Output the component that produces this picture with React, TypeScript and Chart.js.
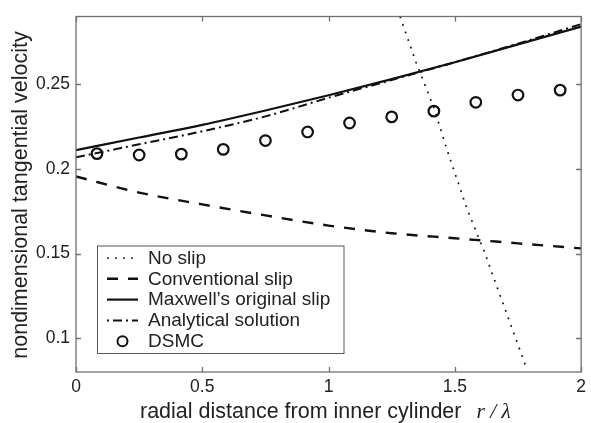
import React, { useEffect, useRef } from 'react';
import { Chart, registerables } from 'chart.js';
Chart.register(...registerables);

// ---- data ----
const lineX = [0, 0.25, 0.5, 0.75, 1, 1.25, 1.5, 1.75, 2];
const conventionalSlip = [0.1955, 0.186, 0.179, 0.1725, 0.1665, 0.162, 0.159, 0.156, 0.153];
const maxwellSlip = [0.211, 0.2185, 0.226, 0.2345, 0.2435, 0.253, 0.263, 0.2735, 0.284];
const analyticalSolution = [0.2068, 0.2145, 0.2222, 0.231, 0.242, 0.2525, 0.263, 0.274, 0.2855];
const noSlipX = [1.283, 1.346, 1.417, 1.474, 1.549, 1.617, 1.682, 1.782];
const noSlipY = [0.29, 0.263, 0.236, 0.209, 0.176, 0.151, 0.124, 0.083];
const dsmcX = [0.083, 0.25, 0.417, 0.583, 0.75, 0.917, 1.083, 1.25, 1.417, 1.583, 1.75, 1.917];
const dsmcY = [0.209, 0.2082, 0.2087, 0.2115, 0.2167, 0.2218, 0.2271, 0.2307, 0.2341, 0.2393, 0.2436, 0.2465];
const xTicks = [0, 0.5, 1, 1.5, 2];
const xTickLabels = ['0', '0.5', '1', '1.5', '2'];
const yTicks = [0.1, 0.15, 0.2, 0.25];
const yTickLabels = ['0.1', '0.15', '0.2', '0.25'];
const legendLabels = ['No slip', 'Conventional slip', 'Maxwell\u2019s original slip', 'Analytical solution', 'DSMC'];

const SANS = '"Liberation Sans", Arial, Helvetica, sans-serif';
const SERIF = '"Liberation Serif", "Times New Roman", serif';
const INK = '#111111';

const zip = (xs: number[], ys: number[]) => xs.map((x, i) => ({ x, y: ys[i] }));

const DOT = [1.8, 6.2];
const DASH = [11, 10];
const DASHDOT = [9, 4, 2, 4];

const decorPlugin = {
  id: 'decor',
  afterDraw(chart: any) {
    const { ctx, chartArea: a, scales } = chart;
    ctx.save();
    // frame
    ctx.strokeStyle = '#707070';
    ctx.lineWidth = 1.3;
    ctx.setLineDash([]);
    ctx.strokeRect(a.left, a.top, a.right - a.left, a.bottom - a.top);
    // inward ticks on all sides
    const L = 5;
    ctx.beginPath();
    xTicks.forEach((v) => {
      const px = Math.round(scales.x.getPixelForValue(v)) + 0.5;
      ctx.moveTo(px, a.bottom); ctx.lineTo(px, a.bottom - L);
      ctx.moveTo(px, a.top); ctx.lineTo(px, a.top + L);
    });
    yTicks.forEach((v) => {
      const py = Math.round(scales.y.getPixelForValue(v)) + 0.5;
      ctx.moveTo(a.left, py); ctx.lineTo(a.left + L, py);
      ctx.moveTo(a.right, py); ctx.lineTo(a.right - L, py);
    });
    ctx.stroke();

    // legend box
    const bx = a.left + 21.5, by = a.top + 229.5, bw = 246.5, bh = 107.5;
    ctx.fillStyle = '#ffffff';
    ctx.fillRect(bx, by, bw, bh);
    ctx.strokeStyle = '#555555';
    ctx.lineWidth = 1;
    ctx.strokeRect(bx, by, bw, bh);
    const sx0 = bx + 9.5, sx1 = bx + 40.5, tx = bx + 50.5;
    const rowY = (i: number) => by + 12 + i * 20.8;
    const styles: any[] = [
      { dash: DOT, w: 1.7 },
      { dash: DASH, w: 2.4 },
      { dash: [], w: 2.2 },
      { dash: [2, 4, 9, 4], w: 2.0 },
      null,
    ];
    legendLabels.forEach((label, i) => {
      const y = rowY(i);
      const s = styles[i];
      ctx.strokeStyle = INK;
      if (s) {
        ctx.lineWidth = s.w;
        ctx.setLineDash(s.dash);
        ctx.lineCap = 'butt';
        ctx.beginPath();
        ctx.moveTo(sx0, y); ctx.lineTo(sx1, y);
        ctx.stroke();
      } else {
        ctx.setLineDash([]);
        ctx.lineWidth = 2;
        ctx.beginPath();
        ctx.arc((sx0 + sx1) / 2, y, 5, 0, Math.PI * 2);
        ctx.stroke();
      }
      ctx.setLineDash([]);
      ctx.fillStyle = '#222222';
      ctx.font = `19px ${SANS}`;
      ctx.textAlign = 'left';
      ctx.textBaseline = 'middle';
      ctx.fillText(label, tx, y + 0.5);
    });

    // axis titles
    ctx.fillStyle = '#222222';
    ctx.font = `21.5px ${SANS}`;
    ctx.textBaseline = 'alphabetic';
    ctx.textAlign = 'left';
    const xTitle = 'radial distance from inner cylinder';
    const tw = ctx.measureText(xTitle).width;
    const xStart = 140;
    ctx.fillText(xTitle, xStart, 418);
    ctx.font = `italic 21.5px ${SERIF}`;
    ctx.fillText('r / \u03bb', xStart + tw + 15, 418);

    ctx.font = `21.5px ${SANS}`;
    ctx.save();
    ctx.translate(27, 195);
    ctx.rotate(-Math.PI / 2);
    ctx.textAlign = 'center';
    ctx.fillText('nondimensional tangential velocity', 0, 0);
    ctx.restore();

    ctx.restore();
  },
};

export default function App() {
  const ref = useRef<HTMLCanvasElement | null>(null);
  useEffect(() => {
    if (!ref.current) return;
    const chart = new Chart(ref.current, {
      type: 'scatter',
      data: {
        datasets: [
          {
            label: legendLabels[0],
            data: zip(noSlipX, noSlipY),
            showLine: true,
            borderColor: INK,
            borderWidth: 1.7,
            borderDash: DOT,
            borderCapStyle: 'butt',
            pointRadius: 0,
            tension: 0,
          },
          {
            label: legendLabels[1],
            data: zip(lineX, conventionalSlip),
            showLine: true,
            borderColor: INK,
            borderWidth: 2.4,
            borderDash: DASH,
            borderCapStyle: 'butt',
            pointRadius: 0,
            cubicInterpolationMode: 'monotone',
          },
          {
            label: legendLabels[2],
            data: zip(lineX, maxwellSlip),
            showLine: true,
            borderColor: INK,
            borderWidth: 2.2,
            pointRadius: 0,
            cubicInterpolationMode: 'monotone',
          },
          {
            label: legendLabels[3],
            data: zip(lineX, analyticalSolution),
            showLine: true,
            borderColor: INK,
            borderWidth: 2.0,
            borderDash: DASHDOT,
            borderCapStyle: 'butt',
            pointRadius: 0,
            cubicInterpolationMode: 'monotone',
          },
          {
            label: legendLabels[4],
            data: zip(dsmcX, dsmcY),
            showLine: false,
            borderColor: INK,
            pointBorderColor: INK,
            pointBackgroundColor: 'rgba(0,0,0,0)',
            pointRadius: 5.3,
            pointBorderWidth: 2.2,
          },
        ],
      } as any,
      options: {
        animation: false,
        responsive: false,
        events: [],
        layout: { padding: { top: 13, right: 4, left: 0, bottom: 0 } },
        plugins: { legend: { display: false }, tooltip: { enabled: false }, title: { display: false } },
        scales: {
          x: {
            type: 'linear',
            min: 0,
            max: 2,
            grid: { display: false, drawTicks: false },
            border: { display: false },
            afterBuildTicks: (s: any) => { s.ticks = xTicks.map((v) => ({ value: v })); },
            afterFit: (s: any) => { s.height = 51; },
            ticks: {
              padding: 5,
              color: '#222222',
              font: { family: SANS, size: 17.5 },
              callback: (v: any) => { const i = xTicks.indexOf(Number(v)); return i >= 0 ? xTickLabels[i] : ''; },
            },
          },
          y: {
            type: 'linear',
            min: 0.08,
            max: 0.29,
            grid: { display: false, drawTicks: false },
            border: { display: false },
            afterBuildTicks: (s: any) => { s.ticks = yTicks.map((v) => ({ value: v })); },
            afterFit: (s: any) => { s.width = 76; },
            ticks: {
              padding: 6,
              color: '#222222',
              font: { family: SANS, size: 17.5 },
              callback: (v: any) => {
                const i = yTicks.findIndex((t) => Math.abs(t - Number(v)) < 1e-9);
                return i >= 0 ? yTickLabels[i] : '';
              },
            },
          },
        },
      } as any,
      plugins: [decorPlugin],
    });
    return () => chart.destroy();
  }, []);

  return (
    <div style={{ position: 'fixed', left: 0, top: 0, width: 591, height: 423, background: '#fff' }}>
      <canvas ref={ref} width={591} height={423} style={{ display: 'block' }} />
    </div>
  );
}
